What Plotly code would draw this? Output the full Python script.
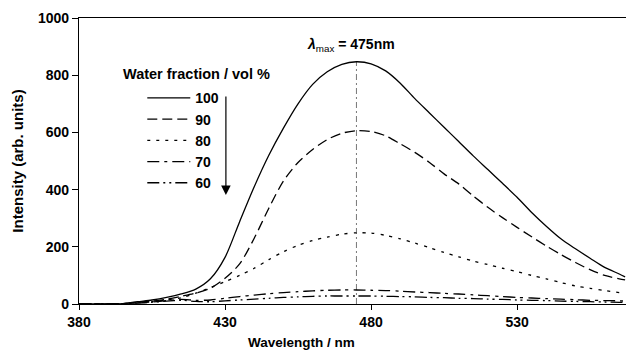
import plotly.graph_objects as go

wavelength = [380, 385, 390, 395, 400, 405, 410, 415, 420, 425, 430, 435, 440, 445, 450,
              455, 460, 465, 470, 475, 480, 485, 490, 495, 500, 505, 510, 515, 520, 525,
              530, 535, 540, 545, 550, 555, 560, 565, 567]

w100 = [0, 0, 0, 1, 8, 14, 23, 35, 52, 88, 163, 288, 410, 520, 615, 700, 768, 812, 838, 847,
        840, 815, 772, 718, 668, 618, 568, 518, 470, 422, 373, 320, 272, 228, 193, 160, 128, 105, 95]
w90 = [0, 0, 0, 1, 6, 10, 17, 27, 38, 55, 90, 140, 230, 335, 430, 495, 540, 575, 597, 606,
       603, 588, 560, 530, 495, 455, 420, 378, 338, 302, 268, 235, 203, 173, 145, 120, 100, 88, 84]
w80 = [0, 0, 0, 1, 5, 8, 14, 22, 38, 57, 78, 100, 125, 155, 183, 205, 222, 234, 244, 249,
       248, 240, 228, 213, 197, 180, 165, 150, 138, 125, 113, 100, 88, 75, 63, 55, 47, 40, 37]
w70 = [0, 0, 0, 1, 4, 7, 12, 16, 13, 14, 20, 26, 31, 36, 40, 43, 46, 48, 49, 49,
       48, 47, 45, 42, 40, 37, 35, 32, 29, 26, 23, 21, 19, 17, 15, 13, 12, 11, 10]
w60 = [0, 0, 0, 1, 3, 6, 10, 13, 9, 8, 11, 14, 17, 20, 23, 25, 27, 28, 28, 28,
       28, 27, 26, 25, 23, 22, 20, 19, 17, 16, 14, 13, 12, 10, 9, 8, 7, 6, 6]

series_names = ["100", "90", "80", "70", "60"]
series_values = [w100, w90, w80, w70, w60]
dashes = ["solid", "10px,5px", "3px,6px", "12px,5px,3px,5px", "12px,4px,2px,4px,2px,4px"]

lambda_max = 475
x_ticks = [380, 430, 480, 530]
y_ticks = [0, 200, 400, 600, 800, 1000]

FONT = "Liberation Sans, Arial, sans-serif"

fig = go.Figure()

fig.add_trace(go.Scatter(
    x=[lambda_max, lambda_max], y=[0, max(w100)], mode="lines",
    line=dict(color="#777777", width=1, dash="6px,3px,2px,3px"),
    showlegend=False, hoverinfo="skip"))

for name, vals, dash in zip(series_names, series_values, dashes):
    fig.add_trace(go.Scatter(
        x=wavelength, y=vals, mode="lines", name=name,
        line=dict(color="black", width=1.3, dash=dash, shape="spline", smoothing=0.8)))

fig.update_layout(
    width=626, height=350,
    margin=dict(l=79, r=0, t=18, b=46, autoexpand=False),
    paper_bgcolor="white", plot_bgcolor="white",
    font=dict(family=FONT, size=14, color="black"),
    showlegend=True,
    legend=dict(x=0.1157, y=0.775, xanchor="left", yanchor="top",
                bgcolor="rgba(0,0,0,0)", itemwidth=43,
                font=dict(family=FONT, size=14, color="black", weight="bold"),
                traceorder="normal"),
)

fig.update_xaxes(
    range=[380, 567.3], tickvals=x_ticks, ticktext=[str(v) for v in x_ticks],
    showline=True, linecolor="black", linewidth=1.2, mirror=True, automargin=False,
    ticks="outside", ticklen=5, tickcolor="black", showgrid=False, zeroline=False,
    tickfont=dict(family=FONT, size=14, color="black", weight="bold"))

fig.update_yaxes(
    range=[0, 1000], tickvals=y_ticks, ticktext=[str(v) for v in y_ticks],
    showline=True, linecolor="black", linewidth=1.2, automargin=False,
    ticks="outside", ticklen=6, tickcolor="black", showgrid=False, zeroline=False,
    tickfont=dict(family=FONT, size=14, color="black", weight="bold"),
    title=dict(text="<b>Intensity (arb. units)</b>", standoff=10,
               font=dict(family=FONT, size=15, color="black")))

# x-axis title
fig.add_annotation(xref="paper", yref="paper", x=0.406, y=-0.136,
                   text="<b>Wavelength / nm</b>", showarrow=False,
                   xanchor="center", yanchor="middle",
                   font=dict(family=FONT, size=13.5, color="black"))

# legend title
fig.add_annotation(xref="paper", yref="paper", x=0.0776, y=0.804,
                   text="<b>Water fraction / vol %</b>", showarrow=False,
                   xanchor="left", yanchor="middle",
                   font=dict(family=FONT, size=14.5, color="black"))

# lambda max label
fig.add_annotation(xref="x", yref="y", x=lambda_max - 2, y=906,
                   text="<b><i>λ</i></b><sub>max</sub><b> = %dnm</b>" % lambda_max,
                   showarrow=False, xanchor="center", yanchor="middle",
                   font=dict(family=FONT, size=14, color="black"))

# arrow indicating decreasing water fraction
fig.add_annotation(xref="x", yref="y", axref="x", ayref="y",
                   x=430.3, y=381, ax=430.3, ay=731, text="",
                   showarrow=True, arrowhead=2, arrowsize=1.6, arrowwidth=1.2,
                   arrowcolor="black", standoff=0)

fig.write_html("out.html", config={"displayModeBar": False},
               post_script="document.body.style.margin='0';document.body.style.overflow='hidden';")
